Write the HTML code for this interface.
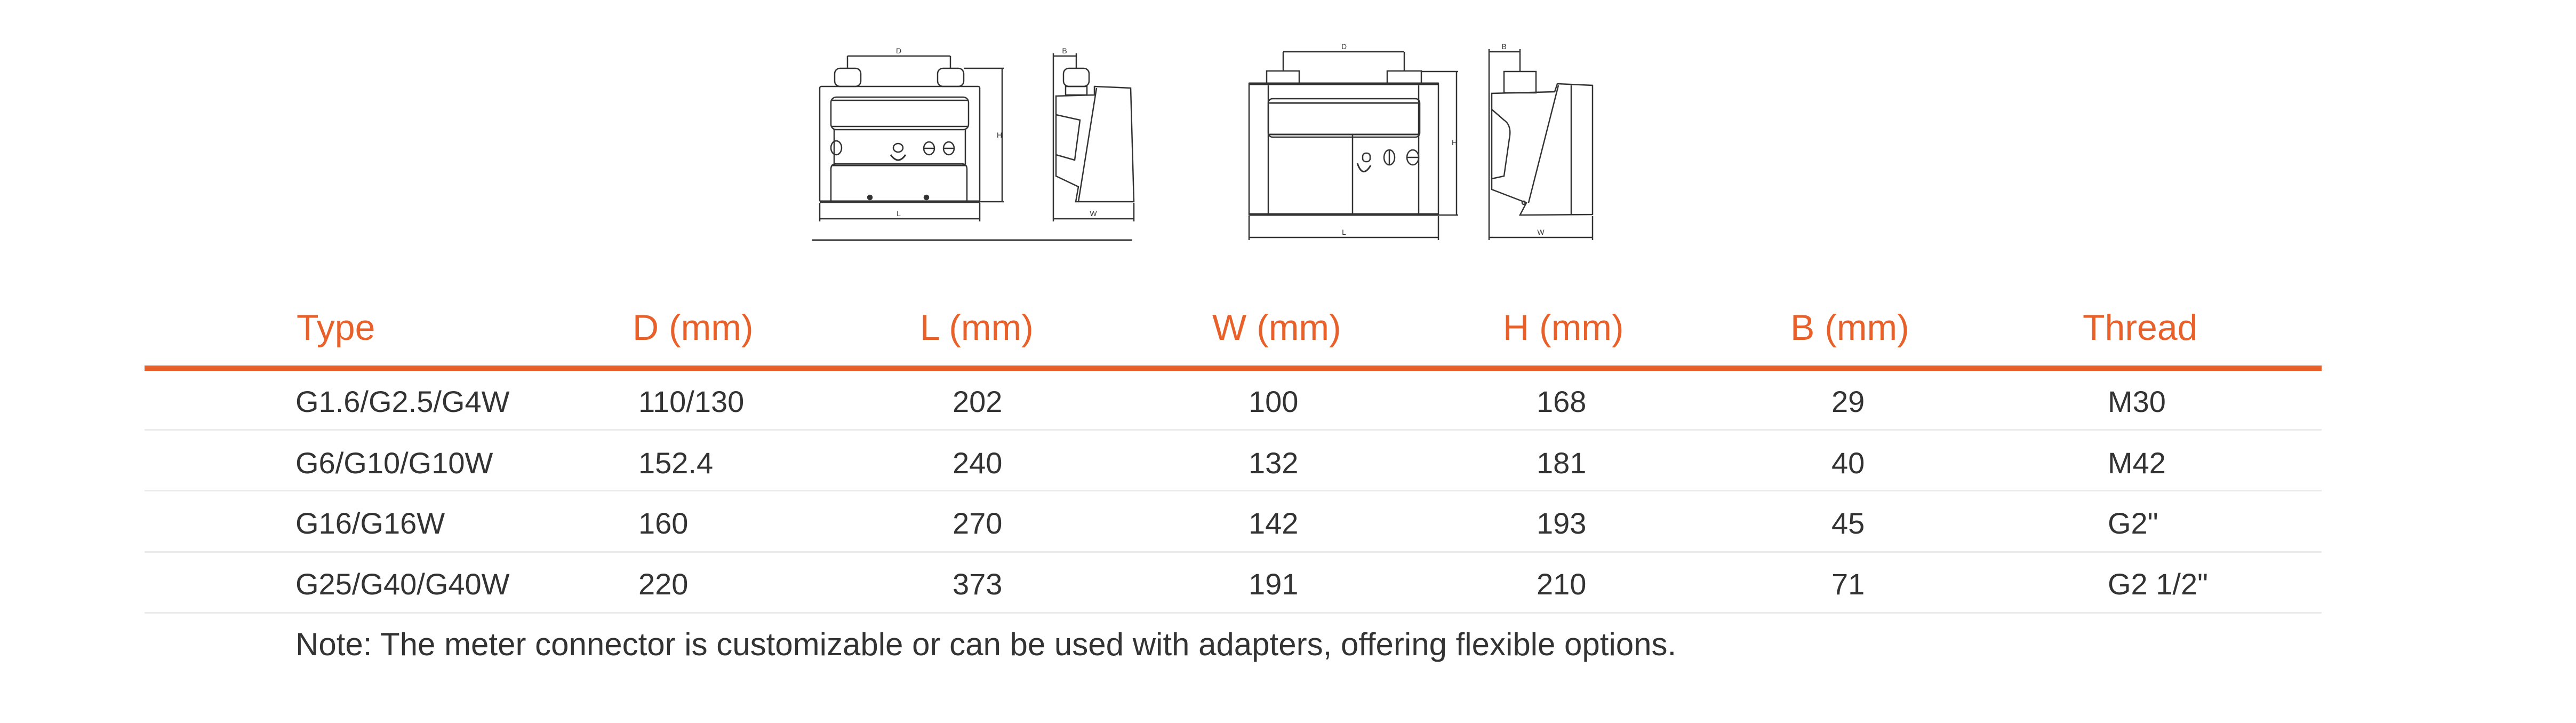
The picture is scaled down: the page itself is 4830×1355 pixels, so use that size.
<!DOCTYPE html>
<html><head><meta charset="utf-8"><style>
html,body{margin:0;padding:0;background:#fff;}
body{width:4830px;height:1355px;position:relative;overflow:hidden;font-family:"Liberation Sans",sans-serif;}
.t{position:absolute;white-space:nowrap;line-height:1;}
.h{color:#e8602a;font-size:68px;top:580px;}
.d{color:#333;font-size:56px;}
.line{position:absolute;left:271px;width:4082px;}
</style></head><body>
<svg width="4830" height="1355" style="position:absolute;left:0;top:0" fill="none" stroke="#333" stroke-width="2.5">
<!-- meter 1 front -->
<rect x="1537" y="162" width="300" height="216" rx="3"/>
<line x1="1537" y1="378" x2="1837" y2="378" stroke-width="5"/>
<rect x="1565" y="128" width="49" height="34" rx="10"/>
<rect x="1758" y="128" width="49" height="34" rx="10"/>
<rect x="1558" y="182" width="258" height="61" rx="10"/>
<line x1="1560" y1="188" x2="1814" y2="188"/>
<line x1="1560" y1="237" x2="1814" y2="237"/>
<path d="M1558 378 V317 Q1558 307 1568 307 H1803 Q1813 307 1813 317 V378"/>
<line x1="1560" y1="310" x2="1811" y2="310" stroke-width="3"/>
<line x1="1564" y1="243" x2="1564" y2="307"/>
<line x1="1810" y1="243" x2="1810" y2="307"/>
<ellipse cx="1568" cy="277" rx="10" ry="13"/>
<ellipse cx="1684" cy="277" rx="9" ry="8"/>
<ellipse cx="1742" cy="278" rx="10" ry="12"/>
<ellipse cx="1779" cy="278" rx="10" ry="12"/>
<line x1="1732" y1="278" x2="1752" y2="278"/><line x1="1769" y1="278" x2="1789" y2="278"/>
<path d="M1670 290 Q1684 310 1698 290" stroke-width="3"/>
<circle cx="1631" cy="370" r="4" fill="#333"/><circle cx="1737" cy="370" r="4" fill="#333"/>
<line x1="1589" y1="105" x2="1782" y2="105"/><line x1="1589" y1="105" x2="1589" y2="128"/><line x1="1782" y1="105" x2="1782" y2="128"/>
<line x1="1807" y1="128" x2="1882" y2="128"/><line x1="1879" y1="128" x2="1879" y2="378"/><line x1="1837" y1="378" x2="1882" y2="378"/>
<line x1="1537" y1="380" x2="1537" y2="415"/><line x1="1837" y1="380" x2="1837" y2="415"/><line x1="1537" y1="410" x2="1837" y2="410"/>
<line x1="1523" y1="450" x2="2123" y2="450" stroke-width="3"/>
<!-- meter 1 side -->
<rect x="1994" y="128" width="48" height="34" rx="10"/>
<rect x="1998" y="162" width="40" height="16"/>
<path d="M2052 162 L2120 165 L2126 378 L2017 378 L2022 350 L1980 330 L1980 180 L2052 178 Z"/>
<path d="M2056 165 L2022 378"/>
<path d="M1980 215 L2025 225 L2015 300 L1980 290"/>
<line x1="1975" y1="100" x2="1975" y2="415"/><line x1="2018" y1="100" x2="2018" y2="128"/>
<line x1="1975" y1="105" x2="2018" y2="105"/>
<line x1="2126" y1="380" x2="2126" y2="415"/><line x1="1975" y1="410" x2="2126" y2="410"/>
<!-- meter 2 front -->
<rect x="2342" y="156" width="355" height="247"/>
<line x1="2342" y1="157" x2="2697" y2="157" stroke-width="5"/>
<line x1="2342" y1="402" x2="2697" y2="402" stroke-width="5"/>
<rect x="2375" y="133" width="61" height="23"/>
<rect x="2601" y="133" width="64" height="23"/>
<rect x="2378" y="185" width="284" height="72" rx="8"/>
<line x1="2380" y1="193" x2="2660" y2="193" stroke-width="3"/>
<line x1="2380" y1="252" x2="2660" y2="252" stroke-width="3"/>
<line x1="2378" y1="160" x2="2378" y2="403"/><line x1="2660" y1="160" x2="2660" y2="403"/>
<line x1="2536" y1="253" x2="2536" y2="403"/>
<rect x="2555" y="287" width="14" height="16" rx="6"/>
<ellipse cx="2605" cy="295" rx="10" ry="14"/><line x1="2605" y1="281" x2="2605" y2="309"/>
<ellipse cx="2649" cy="295" rx="11" ry="14"/><line x1="2638" y1="295" x2="2660" y2="295"/>
<path d="M2545 306 Q2555 335 2570 310" stroke-width="3"/>
<line x1="2406" y1="97" x2="2633" y2="97"/><line x1="2406" y1="97" x2="2406" y2="133"/><line x1="2633" y1="97" x2="2633" y2="133"/>
<line x1="2665" y1="134" x2="2734" y2="134"/><line x1="2731" y1="134" x2="2731" y2="403"/><line x1="2697" y1="403" x2="2734" y2="403"/>
<line x1="2342" y1="405" x2="2342" y2="450"/><line x1="2697" y1="405" x2="2697" y2="450"/><line x1="2342" y1="445" x2="2697" y2="445"/>
<!-- meter 2 side -->
<rect x="2820" y="134" width="60" height="40"/>
<path d="M2920 157 L2986 160 L2986 402 L2850 403 L2862 380 L2797 355 L2797 175 L2915 172 Z"/>
<line x1="2946" y1="160" x2="2946" y2="402"/>
<path d="M2922 160 L2866 380"/>
<path d="M2797 205 L2820 225 Q2835 235 2830 260 L2820 330 L2797 335"/>
<circle cx="2857" cy="380" r="3"/>
<line x1="2792" y1="92" x2="2792" y2="450"/><line x1="2850" y1="92" x2="2850" y2="134"/>
<line x1="2792" y1="97" x2="2850" y2="97"/>
<line x1="2986" y1="405" x2="2986" y2="450"/><line x1="2792" y1="445" x2="2986" y2="445"/>
<g fill="#333" stroke="none" font-family="Liberation Sans" font-size="14" text-anchor="middle">
<text x="1685" y="100">D</text><text x="1874" y="258">H</text><text x="1685" y="405">L</text>
<text x="1996" y="100">B</text><text x="2050" y="405">W</text>
<text x="2520" y="92">D</text><text x="2727" y="272">H</text><text x="2520" y="440">L</text>
<text x="2820" y="92">B</text><text x="2889" y="440">W</text>
</g>
</svg>

<div class="line" style="top:685px;height:10px;background:#e8602a"></div>
<div class="line" style="top:804px;height:3px;background:#ebebeb"></div>
<div class="line" style="top:918px;height:3px;background:#ebebeb"></div>
<div class="line" style="top:1033px;height:3px;background:#ebebeb"></div>
<div class="line" style="top:1147px;height:3px;background:#ebebeb"></div>

<div class="t h" style="left:556px">Type</div>
<div class="t h" style="left:1186px">D (mm)</div>
<div class="t h" style="left:1725px">L (mm)</div>
<div class="t h" style="left:2273px">W (mm)</div>
<div class="t h" style="left:2818px">H (mm)</div>
<div class="t h" style="left:3357px">B (mm)</div>
<div class="t h" style="left:3905px">Thread</div>

<div class="t d" style="top:725px;left:554px">G1.6/G2.5/G4W</div>
<div class="t d" style="top:725px;left:1197px">110/130</div>
<div class="t d" style="top:725px;left:1786px">202</div>
<div class="t d" style="top:725px;left:2341px">100</div>
<div class="t d" style="top:725px;left:2881px">168</div>
<div class="t d" style="top:725px;left:3434px">29</div>
<div class="t d" style="top:725px;left:3952px">M30</div>

<div class="t d" style="top:840px;left:554px">G6/G10/G10W</div>
<div class="t d" style="top:840px;left:1197px">152.4</div>
<div class="t d" style="top:840px;left:1786px">240</div>
<div class="t d" style="top:840px;left:2341px">132</div>
<div class="t d" style="top:840px;left:2881px">181</div>
<div class="t d" style="top:840px;left:3434px">40</div>
<div class="t d" style="top:840px;left:3952px">M42</div>

<div class="t d" style="top:953px;left:554px">G16/G16W</div>
<div class="t d" style="top:953px;left:1197px">160</div>
<div class="t d" style="top:953px;left:1786px">270</div>
<div class="t d" style="top:953px;left:2341px">142</div>
<div class="t d" style="top:953px;left:2881px">193</div>
<div class="t d" style="top:953px;left:3434px">45</div>
<div class="t d" style="top:953px;left:3952px">G2"</div>

<div class="t d" style="top:1067px;left:554px">G25/G40/G40W</div>
<div class="t d" style="top:1067px;left:1197px">220</div>
<div class="t d" style="top:1067px;left:1786px">373</div>
<div class="t d" style="top:1067px;left:2341px">191</div>
<div class="t d" style="top:1067px;left:2881px">210</div>
<div class="t d" style="top:1067px;left:3434px">71</div>
<div class="t d" style="top:1067px;left:3952px">G2 1/2"</div>

<div class="t d" style="top:1178px;left:554px;font-size:60px">Note: The meter connector is customizable or can be used with adapters, offering flexible options.</div>
</body></html>
